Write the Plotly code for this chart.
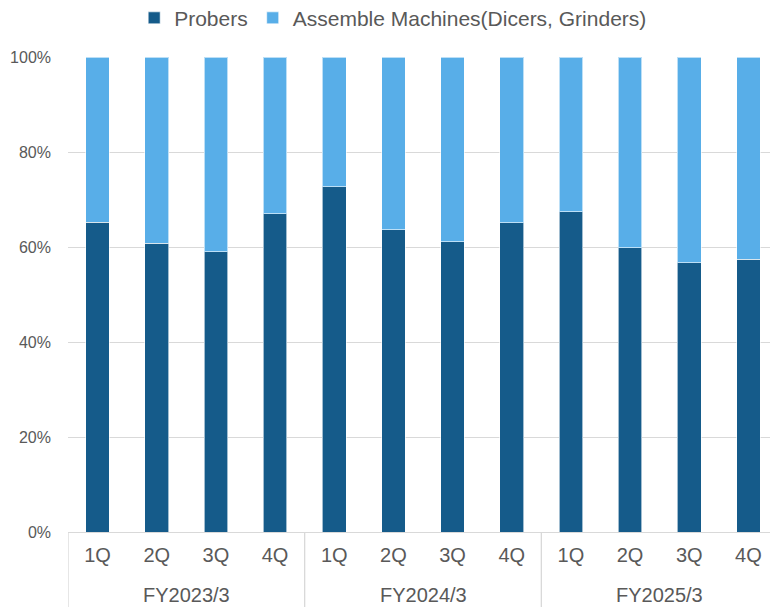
import plotly.graph_objects as go

years = ["FY2023/3"] * 4 + ["FY2024/3"] * 4 + ["FY2025/3"] * 4
quarters = ["1Q", "2Q", "3Q", "4Q"] * 3
probers = [65.2, 60.8, 59.0, 67.0, 72.7, 63.6, 61.1, 65.1, 67.4, 59.8, 56.7, 57.4]
assemble = [round(100 - p, 1) for p in probers]
y_ticks = [0, 20, 40, 60, 80, 100]
y_labels = ["0%", "20%", "40%", "60%", "80%", "100%"]

dark = "#155B8A"
light = "#58AEE8"
grid = "#D9D9D9"
text_color = "#595959"
font = "Liberation Sans, Arial, sans-serif"

pos = list(range(len(quarters)))

fig = go.Figure()
fig.add_trace(go.Bar(x=pos, y=probers, name="Probers",
                     marker=dict(color=dark, line=dict(color="rgba(255,255,255,0.6)", width=1))))
fig.add_trace(go.Bar(x=pos, y=assemble, name="Assemble Machines(Dicers, Grinders)",
                     marker=dict(color=light, line=dict(color="rgba(255,255,255,0.6)", width=1))))

# group labels and dividers derived from the year list
groups = []
for i, yv in enumerate(years):
    if not groups or groups[-1][0] != yv:
        groups.append([yv, i, i])
    else:
        groups[-1][2] = i

shapes = []
annotations = []
for name, start, end in groups:
    shapes.append(dict(type="line", xref="x", yref="paper", x0=start - 0.5, x1=start - 0.5,
                       y0=0, y1=-0.16, line=dict(color=grid, width=1.3)))
    annotations.append(dict(x=(start + end) / 2, xref="x", y=-0.1326, yref="paper",
                            text=name, showarrow=False, yanchor="middle",
                            font=dict(size=20, color=text_color, family=font)))

# the page body adds an 8px offset, so the figure is 8px smaller than the window
fig.update_layout(
    barmode="stack",
    bargap=0.6,
    width=770, height=599,
    margin=dict(l=60, r=0, t=49, b=75),
    paper_bgcolor="white", plot_bgcolor="white",
    font=dict(family=font, size=16, color=text_color),
    legend=dict(orientation="h", x=0.458, xanchor="center", yref="container", y=0.983,
                yanchor="middle", font=dict(size=21, color=text_color),
                itemwidth=30, traceorder="normal", bgcolor="rgba(0,0,0,0)"),
    showlegend=True,
    shapes=shapes,
    annotations=annotations,
)
fig.update_yaxes(range=[0, 100], tickvals=y_ticks, ticktext=y_labels,
                 showgrid=True, gridcolor=grid, gridwidth=1.3,
                 zeroline=False, showline=False, ticks="", automargin=False,
                 ticklabelstandoff=16,
                 tickfont=dict(size=16, color=text_color))
fig.update_xaxes(range=[-0.5, len(pos) - 0.5], tickvals=pos, ticktext=quarters,
                 showline=True, linecolor=grid, linewidth=1.3, showgrid=False,
                 zeroline=False, automargin=False, ticks="", ticklabelstandoff=5,
                 tickfont=dict(size=20, color=text_color))

fig.write_html("out.html")
